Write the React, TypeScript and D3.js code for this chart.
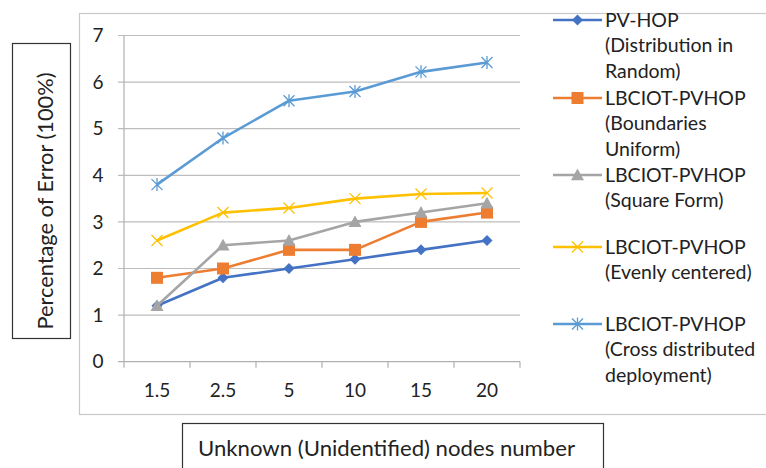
import React from "react";
import * as d3 from "d3";

const categories = ["1.5", "2.5", "5", "10", "15", "20"];
const seriesNames = [
  ["PV-HOP", "(Distribution in", "Random)"],
  ["LBCIOT-PVHOP", "(Boundaries", "Uniform)"],
  ["LBCIOT-PVHOP", "(Square Form)"],
  ["LBCIOT-PVHOP", "(Evenly centered)"],
  ["LBCIOT-PVHOP", "(Cross distributed", "deployment)"],
];
const pvHop = [1.2, 1.8, 2.0, 2.2, 2.4, 2.6];
const boundaries = [1.8, 2.0, 2.4, 2.4, 3.0, 3.2];
const square = [1.2, 2.5, 2.6, 3.0, 3.2, 3.4];
const evenly = [2.6, 3.2, 3.3, 3.5, 3.6, 3.62];
const cross = [3.8, 4.8, 5.6, 5.8, 6.22, 6.42];
const yTicks = [0, 1, 2, 3, 4, 5, 6, 7];

const seriesValues = [pvHop, boundaries, square, evenly, cross];
const colors = ["#4472C4", "#ED7D31", "#A5A5A5", "#FFC000", "#5B9BD5"];
const markers = ["diamond", "square", "triangle", "x", "star"];
const legendY = [20, 98, 175, 247, 324];

const FONT = "Lato, 'Open Sans', sans-serif";

function Marker({ type, x, y, color }: { type: string; x: number; y: number; color: string }) {
  if (type === "diamond") {
    const s = 5.5;
    return <path d={`M${x},${y - s}L${x + s},${y}L${x},${y + s}L${x - s},${y}Z`} fill={color} />;
  }
  if (type === "square") {
    const s = 6;
    return <rect x={x - s} y={y - s} width={2 * s} height={2 * s} fill={color} />;
  }
  if (type === "triangle") {
    const s = 6.5;
    return <path d={`M${x},${y - s}L${x + s},${y + s * 0.8}L${x - s},${y + s * 0.8}Z`} fill={color} />;
  }
  if (type === "x") {
    const s = 5.5;
    return (
      <path d={`M${x - s},${y - s}L${x + s},${y + s}M${x - s},${y + s}L${x + s},${y - s}`} stroke={color} strokeWidth={1.3} fill="none" />
    );
  }
  const s = 5.5;
  return (
    <path
      d={`M${x - s},${y - s}L${x + s},${y + s}M${x - s},${y + s}L${x + s},${y - s}M${x},${y - s - 1}L${x},${y + s + 1}`}
      stroke={color}
      strokeWidth={1.3}
      fill="none"
    />
  );
}

export default function App() {
  const W = 766;
  const H = 468;
  const x0 = 124;
  const x1 = 520;
  const yTop = 35.5;
  const yBot = 361.7;
  const x = d3.scaleBand<string>().domain(categories).range([x0, x1]);
  const y = d3.scaleLinear().domain([0, 7]).range([yBot, yTop]);
  const line = d3
    .line<number>()
    .x((_, i) => (x(categories[i]) as number) + x.bandwidth() / 2)
    .y((d) => y(d));

  return (
    <svg width={W} height={H} style={{ position: "absolute", left: 0, top: 0 }} fontFamily={FONT}>
      <rect x={0} y={0} width={W} height={H} fill="#fff" />
      {/* outer chart box */}
      <rect x={79.5} y={13.5} width={700} height={401} fill="none" stroke="#c8c8c8" strokeWidth={1.2} />
      {/* gridlines */}
      {yTicks.map((t) => (
        <line key={t} x1={x0 - 6} x2={x1} y1={y(t)} y2={y(t)} stroke={t === 0 ? "#b0b0b0" : "#bdbdbd"} strokeWidth={1.2} />
      ))}
      {/* y axis line */}
      <line x1={x0} x2={x0} y1={yTop} y2={yBot} stroke="#b0b0b0" strokeWidth={1.2} />
      {/* x ticks */}
      {[...categories.map((c) => x(c) as number), x1].map((v, i) => (
        <line key={i} x1={v} x2={v} y1={yBot} y2={yBot + 6} stroke="#b0b0b0" strokeWidth={1.2} />
      ))}
      {/* y tick labels */}
      {yTicks.map((t) => (
        <text key={t} x={98} y={y(t)} dy="0.35em" textAnchor="middle" fontSize={19} fill="#222">
          {t}
        </text>
      ))}
      {/* x tick labels */}
      {categories.map((c) => (
        <text key={c} x={(x(c) as number) + x.bandwidth() / 2} y={390} dy="0.35em" textAnchor="middle" fontSize={19} fill="#222">
          {c}
        </text>
      ))}
      {/* series */}
      {seriesValues.map((vals, si) => (
        <g key={si}>
          <path d={line(vals) || ""} fill="none" stroke={colors[si]} strokeWidth={2.6} strokeLinejoin="round" />
          {vals.map((v, i) => (
            <Marker key={i} type={markers[si]} x={(x(categories[i]) as number) + x.bandwidth() / 2} y={y(v)} color={colors[si]} />
          ))}
        </g>
      ))}
      {/* legend */}
      {seriesNames.map((lines, si) => (
        <g key={si}>
          <line x1={553} x2={602} y1={legendY[si]} y2={legendY[si]} stroke={colors[si]} strokeWidth={2.6} />
          <Marker type={markers[si]} x={577.5} y={legendY[si]} color={colors[si]} />
          {lines.map((l, li) => (
            <text key={li} x={605} y={legendY[si] + li * 25.5} dy="0.35em" fontSize={19.5} fill="#222">
              {l}
            </text>
          ))}
        </g>
      ))}
      {/* y label box */}
      <rect x={12.5} y={43.5} width={58} height={295} fill="#fff" stroke="#333" strokeWidth={1.2} />
      <text
        transform="translate(53,201) rotate(-90)"
        textAnchor="middle"
        fontSize={20.5}
        textLength={257}
        lengthAdjust="spacingAndGlyphs"
        fill="#222"
      >
        Percentage of Error (100%)
      </text>
      {/* x label box */}
      <rect x={182.5} y={423.5} width={421} height={60} fill="#fff" stroke="#333" strokeWidth={1.2} />
      <text x={198} y={456} fontSize={22} textLength={377} lengthAdjust="spacingAndGlyphs" fill="#222">
        Unknown (Unidentified) nodes number
      </text>
    </svg>
  );
}
